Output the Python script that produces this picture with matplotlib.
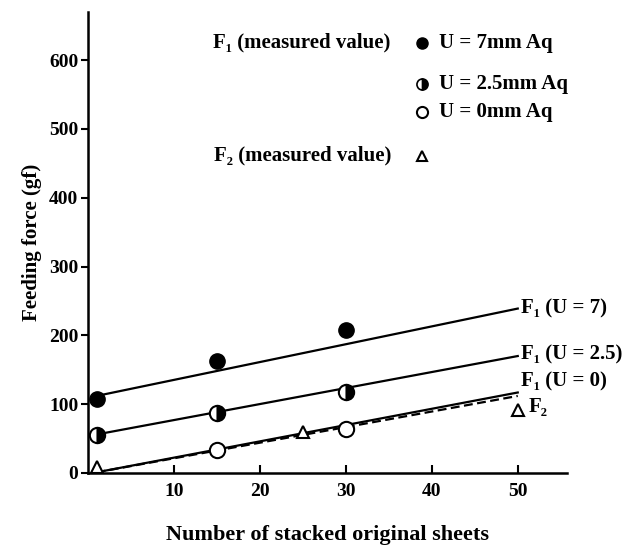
import matplotlib
matplotlib.use("Agg")
import matplotlib.pyplot as plt

plt.rcParams['font.family'] = ['Liberation Serif', 'DejaVu Serif']
plt.rcParams['font.weight'] = 'bold'

# measured points
x_f1 = [1, 15, 30]
f1_u7 = [108, 163, 208]
f1_u25 = [55, 87, 117]
f1_u0 = [33, 64]
x_f1_u0 = [15, 30]
x_f2 = [1, 25, 50]
f2_meas = [8, 60, 91]

# fitted lines (end values)
line_x = [1, 50]
line_u7 = [112, 239]
line_u25 = [56, 170]
line_u0 = [1, 117]
line_f2 = [1, 112]

fig = plt.figure(figsize=(6.25, 5.46), dpi=100)
ax = fig.add_axes([0.1408, 0.1337, 0.766, 0.8443])

lw = 1.6
ax.plot(line_x, line_u7, color='black', lw=lw)
ax.plot(line_x, line_u25, color='black', lw=lw)
ax.plot(line_x, line_u0, color='black', lw=lw)
ax.plot(line_x, line_f2, color='black', lw=lw, ls=(0, (4, 2)))

ax.plot(x_f1, f1_u7, 'o', ms=11, color='black', clip_on=False)
ax.plot(x_f1, f1_u25, 'o', ms=11, mfc='black', mfcalt='white', mec='black',
        mew=1.5, fillstyle='right', clip_on=False)
ax.plot(x_f1_u0, f1_u0, 'o', ms=11, mfc='white', mec='black', mew=1.5)
ax.plot(x_f2, f2_meas, '^', ms=9, mfc='white', mec='black', mew=1.5, clip_on=False)

# labels at line ends
fs = 15
ax.text(50.4, line_u7[1], 'F₁ (U = 7)', fontsize=fs, va='center', ha='left')
ax.text(50.4, line_u25[1] + 2, 'F₁ (U = 2.5)', fontsize=fs, va='center', ha='left')
ax.text(50.4, 133, 'F₁ (U = 0)', fontsize=fs, va='center', ha='left')
ax.text(51.3, 96, 'F₂', fontsize=fs, va='center', ha='left')

# legend block
ax.text(14.5, 625, 'F₁ (measured value)', fontsize=fs, va='center', ha='left')
ax.text(14.7, 461, 'F₂ (measured value)', fontsize=fs, va='center', ha='left')
ax.plot([38.9], [625], 'o', ms=8, color='black')
ax.plot([38.9], [565], 'o', ms=8, mfc='black', mfcalt='white', mec='black',
        mew=1.2, fillstyle='right')
ax.plot([38.9], [524], 'o', ms=8, mfc='white', mec='black', mew=1.5)
ax.plot([38.9], [461], '^', ms=7, mfc='white', mec='black', mew=1.5)
ax.text(40.8, 625, 'U = 7mm Aq', fontsize=fs, va='center', ha='left')
ax.text(40.8, 565, 'U = 2.5mm Aq', fontsize=fs, va='center', ha='left')
ax.text(40.8, 524, 'U = 0mm Aq', fontsize=fs, va='center', ha='left')

ax.set_xlim(0, 55.7)
ax.set_ylim(0, 670)
ax.set_xticks([10, 20, 30, 40, 50])
ax.set_yticks([0, 100, 200, 300, 400, 500, 600])
ax.tick_params(axis='x', direction='in', length=6, width=1.5, labelsize=14, pad=7)
ax.tick_params(axis='y', direction='out', length=5, width=1.5, labelsize=14, pad=2)
for s in ['top', 'right']:
    ax.spines[s].set_visible(False)
for s in ['left', 'bottom']:
    ax.spines[s].set_linewidth(1.8)

ax.set_xlabel('Number of stacked original sheets', fontsize=16, fontweight='bold',
              labelpad=18)
ax.set_ylabel('Feeding force (gf)', fontsize=fs, fontweight='bold', labelpad=5)

fig.savefig('out.png', dpi=100)
